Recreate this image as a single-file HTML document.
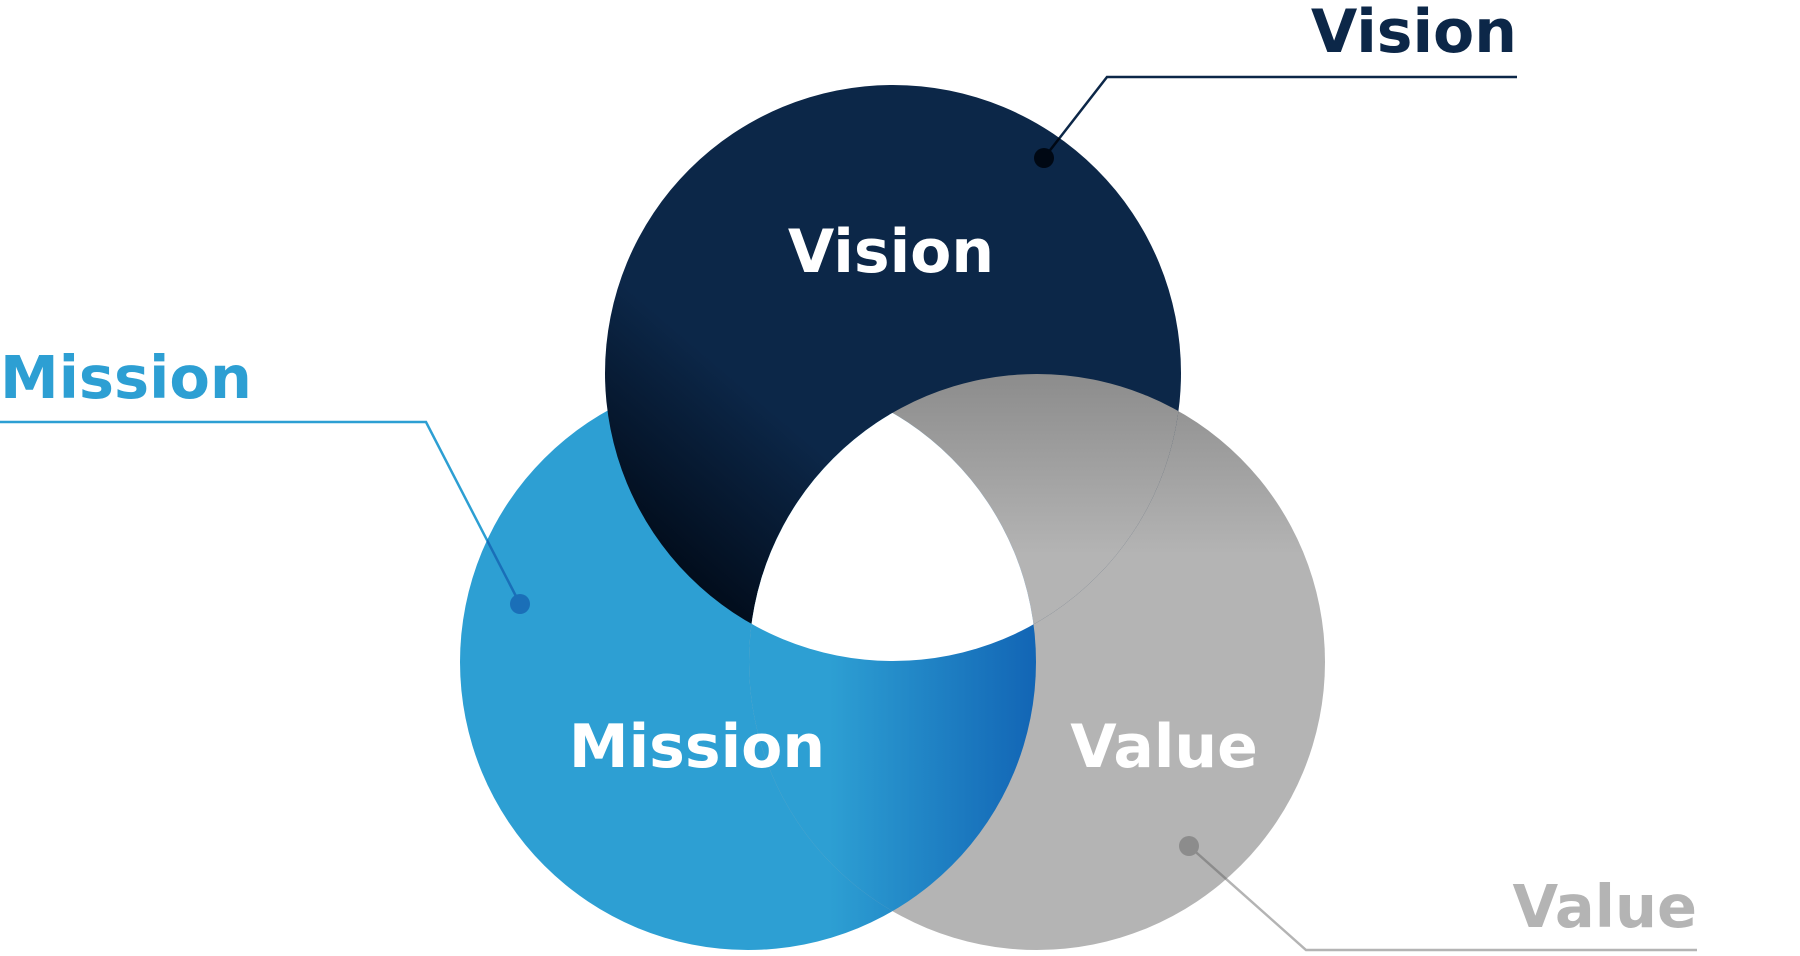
<!DOCTYPE html>
<html><head><meta charset="utf-8"><style>
html,body{margin:0;padding:0;background:#fff;}
svg{display:block;}
text{font-family:"DejaVu Sans","Liberation Sans",sans-serif;font-weight:bold;}
</style></head><body>
<svg width="1800" height="956" viewBox="0 0 1800 956" xmlns="http://www.w3.org/2000/svg">
<defs>
<linearGradient id="gv" gradientUnits="userSpaceOnUse" x1="990" y1="250" x2="680" y2="615">
<stop offset="0" stop-color="#0c2748"/><stop offset="0.55" stop-color="#0c2748"/><stop offset="1" stop-color="#000814"/>
</linearGradient>
<linearGradient id="gm" gradientUnits="userSpaceOnUse" x1="830" y1="0" x2="1036" y2="0">
<stop offset="0" stop-color="#2d9fd3"/><stop offset="1" stop-color="#1265b5"/>
</linearGradient>
<linearGradient id="ga" gradientUnits="userSpaceOnUse" x1="0" y1="374" x2="0" y2="555">
<stop offset="0" stop-color="#8c8c8c"/><stop offset="1" stop-color="#b4b4b4"/>
</linearGradient>
<clipPath id="cV"><circle cx="893" cy="373" r="288"/></clipPath>
<clipPath id="cM"><circle cx="748" cy="662" r="288"/></clipPath>
<clipPath id="cA"><circle cx="1037" cy="662" r="288"/></clipPath>
</defs>
<circle cx="748" cy="662" r="288" fill="url(#gm)"/>
<circle cx="1037" cy="662" r="288" fill="url(#ga)"/>
<circle cx="893" cy="373" r="288" fill="url(#gv)"/>
<g clip-path="url(#cV)"><circle cx="1037" cy="662" r="288" fill="url(#ga)"/></g>
<g clip-path="url(#cA)"><circle cx="748" cy="662" r="288" fill="url(#gm)"/></g>
<g clip-path="url(#cV)"><g clip-path="url(#cM)"><circle cx="1037" cy="662" r="288" fill="#fff"/></g></g>

<text x="891" y="272" font-size="60" fill="#fff" text-anchor="middle">Vision</text>
<text x="697" y="767" font-size="60" fill="#fff" text-anchor="middle">Mission</text>
<text x="1164" y="767" font-size="60" fill="#fff" text-anchor="middle">Value</text>

<text x="1517" y="52" font-size="60" fill="#0c2748" text-anchor="end">Vision</text>
<polyline points="1517,77 1107,77 1044,158" fill="none" stroke="#0c2748" stroke-width="2.5"/>
<g clip-path="url(#cV)"><line x1="1107" y1="77" x2="1044" y2="158" stroke="#000814" stroke-width="2.5"/></g>
<circle cx="1044" cy="158" r="10" fill="#000814"/>

<text x="0" y="398" font-size="59" fill="#2d9fd3">Mission</text>
<polyline points="0,422 426,422 520,604" fill="none" stroke="#2d9fd3" stroke-width="2.5"/>
<g clip-path="url(#cM)"><line x1="426" y1="422" x2="520" y2="604" stroke="#1a6fb8" stroke-width="2.5"/></g>
<circle cx="520" cy="604" r="10" fill="#1a6fb8"/>

<text x="1697" y="927" font-size="59" fill="#b4b4b4" text-anchor="end">Value</text>
<polyline points="1189,846 1306,950 1697,950" fill="none" stroke="#b4b4b4" stroke-width="2.5"/>
<g clip-path="url(#cA)"><line x1="1189" y1="846" x2="1306" y2="950" stroke="#8c8c8c" stroke-width="2.5"/></g>
<circle cx="1189" cy="846" r="10" fill="#8c8c8c"/>
</svg>
</body></html>
